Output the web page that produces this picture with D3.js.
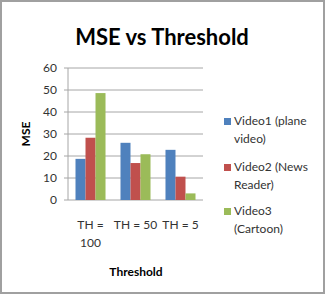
<!DOCTYPE html>
<head>
  <meta charset="utf-8">
  <script src="https://d3js.org/d3.v7.min.js"></script>
  <style>
    body { margin:0; background:#fff; }
    text { font-family: Lato, 'Open Sans', sans-serif; }
  </style>
</head>
<body>
  <script>
    // data
    var categories = [['TH =', '100'], ['TH = 50'], ['TH = 5']];
    var seriesNames = [['Video1 (plane', 'video)'], ['Video2 (News', 'Reader)'], ['Video3', '(Cartoon)']];
    var video1 = [18.7, 26, 22.8];
    var video2 = [28.3, 16.8, 10.6];
    var video3 = [48.6, 20.8, 3];
    var yTicks = [0, 10, 20, 30, 40, 50, 60];
    var colors = ['#4F81BD', '#C0504D', '#9BBB59'];

    var width = 325, height = 294;
    var series = [video1, video2, video3];

    var svg = d3.select('body').append('svg')
      .attr('width', width).attr('height', height);

    // outer frame
    svg.append('rect')
      .attr('x', 1).attr('y', 1)
      .attr('width', width - 2).attr('height', height - 2)
      .attr('fill', '#fff').attr('stroke', '#a0a0a0').attr('stroke-width', 2);

    svg.append('text')
      .attr('x', 162).attr('y', 45)
      .attr('text-anchor', 'middle')
      .style('font-size', '22px').style('font-weight', 'bold')
      .text('MSE vs Threshold');

    var x0 = d3.scaleBand().domain(d3.range(categories.length)).range([68, 203]).paddingInner(0.333).paddingOuter(0.1667);
    var x1 = d3.scaleBand().domain(d3.range(series.length)).range([0, x0.bandwidth()]);
    var y = d3.scaleLinear().domain([0, 60]).range([200, 68]);

    // gridlines
    svg.append('g').selectAll('line').data(yTicks).enter().append('line')
      .attr('x1', 64).attr('x2', 203)
      .attr('y1', d => y(d)).attr('y2', d => y(d))
      .attr('stroke', '#a6a6a6').attr('stroke-width', 1);

    svg.append('line')
      .attr('x1', 68).attr('x2', 68).attr('y1', 68).attr('y2', 200)
      .attr('stroke', '#a6a6a6');

    svg.append('g').selectAll('text').data(yTicks).enter().append('text')
      .attr('x', 57).attr('y', d => y(d) + 4)
      .attr('text-anchor', 'end')
      .style('font-size', '12px').style('fill', '#333')
      .text(d => d);

    // bars
    var groups = svg.append('g').selectAll('g').data(series).enter().append('g')
      .attr('fill', (d, i) => colors[i]);
    groups.each(function(vals, si) {
      d3.select(this).selectAll('rect').data(vals).enter().append('rect')
        .attr('x', (d, ci) => x0(ci) + x1(si))
        .attr('width', x1.bandwidth())
        .attr('y', d => y(d))
        .attr('height', d => y(0) - y(d));
    });

    // category labels
    var cl = svg.append('g').selectAll('text').data(categories).enter().append('text')
      .attr('x', (d, i) => x0(i) + x0.bandwidth() / 2)
      .attr('y', 229)
      .attr('text-anchor', 'middle')
      .style('font-size', '12px').style('fill', '#333');
    cl.each(function(lines) {
      d3.select(this).selectAll('tspan').data(lines).enter().append('tspan')
        .attr('x', d3.select(this).attr('x'))
        .attr('dy', (d, i) => i == 0 ? 0 : 18)
        .text(d => d);
    });

    svg.append('text')
      .attr('x', 136).attr('y', 276)
      .attr('text-anchor', 'middle')
      .style('font-size', '12px').style('font-weight', 'bold')
      .text('Threshold');

    svg.append('text')
      .attr('transform', 'translate(30,134) rotate(-90)')
      .attr('text-anchor', 'middle')
      .style('font-size', '12px').style('font-weight', 'bold')
      .text('MSE');

    // legend
    var legendY = [125, 171, 215];
    var lg = svg.append('g').selectAll('g').data(seriesNames).enter().append('g')
      .attr('transform', (d, i) => 'translate(224,' + legendY[i] + ')');
    lg.append('rect').attr('x', 0).attr('y', -7).attr('width', 7).attr('height', 7)
      .attr('fill', (d, i) => colors[i]);
    lg.append('text')
      .style('font-size', '12px').style('fill', '#333')
      .each(function(lines) {
        d3.select(this).selectAll('tspan').data(lines).enter().append('tspan')
          .attr('x', 10).attr('dy', (d, i) => i == 0 ? 0 : 18)
          .text(d => d);
      });
  </script>
</body>
